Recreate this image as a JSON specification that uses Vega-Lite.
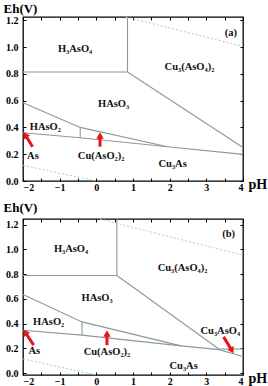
{
  "$schema": "https://vega.github.io/schema/vega-lite/v6.json",
  "padding": {"left": 2, "top": 1, "right": 0, "bottom": 0},
  "spacing": 7,
  "config": {
    "view": {"stroke": "#000", "strokeWidth": 1.3},
    "font": "Liberation Serif",
    "axis": {"domain": false, "grid": false, "tickColor": "#000", "tickSize": -3, "tickWidth": 1, "labelFont": "Liberation Serif", "labelFontWeight": "bold", "labelFontSize": 10, "labelColor": "#000", "titleFont": "Liberation Serif", "titleFontWeight": "bold", "titleColor": "#000"}
  },
  "datasets": {
    "lines": [
      {"panel": "a", "id": "a1", "kind": "solid", "seq": 1, "pH": -2, "Eh": 0.813},
      {"panel": "a", "id": "a1", "kind": "solid", "seq": 2, "pH": 0.85, "Eh": 0.813},
      {"panel": "a", "id": "a2", "kind": "solid", "seq": 1, "pH": 0.85, "Eh": 0.813},
      {"panel": "a", "id": "a2", "kind": "solid", "seq": 2, "pH": 0.85, "Eh": 1.224},
      {"panel": "a", "id": "a3", "kind": "solid", "seq": 1, "pH": 0.85, "Eh": 0.813},
      {"panel": "a", "id": "a3", "kind": "solid", "seq": 2, "pH": 4, "Eh": 0.25},
      {"panel": "a", "id": "a4", "kind": "solid", "seq": 1, "pH": -2, "Eh": 0.584},
      {"panel": "a", "id": "a4", "kind": "solid", "seq": 2, "pH": -0.44, "Eh": 0.4},
      {"panel": "a", "id": "a4", "kind": "solid", "seq": 3, "pH": 1.945, "Eh": 0.256},
      {"panel": "a", "id": "a5", "kind": "solid", "seq": 1, "pH": -0.44, "Eh": 0.4},
      {"panel": "a", "id": "a5", "kind": "solid", "seq": 2, "pH": -0.44, "Eh": 0.323},
      {"panel": "a", "id": "a6", "kind": "solid", "seq": 1, "pH": -2, "Eh": 0.36},
      {"panel": "a", "id": "a6", "kind": "solid", "seq": 2, "pH": -0.44, "Eh": 0.323},
      {"panel": "a", "id": "a6", "kind": "solid", "seq": 3, "pH": 1.945, "Eh": 0.256},
      {"panel": "a", "id": "a6", "kind": "solid", "seq": 4, "pH": 4, "Eh": 0.199},
      {"panel": "a", "id": "ad1", "kind": "dot", "seq": 1, "pH": 0.8, "Eh": 1.224},
      {"panel": "a", "id": "ad1", "kind": "dot", "seq": 2, "pH": 4, "Eh": 1.005},
      {"panel": "a", "id": "ad2", "kind": "dot", "seq": 1, "pH": -2, "Eh": 0.117},
      {"panel": "a", "id": "ad2", "kind": "dot", "seq": 2, "pH": 0, "Eh": 0},
      {"panel": "b", "id": "b1", "kind": "solid", "seq": 1, "pH": -2, "Eh": 0.789},
      {"panel": "b", "id": "b1", "kind": "solid", "seq": 2, "pH": 0.56, "Eh": 0.789},
      {"panel": "b", "id": "b2", "kind": "solid", "seq": 1, "pH": 0.56, "Eh": 0.789},
      {"panel": "b", "id": "b2", "kind": "solid", "seq": 2, "pH": 0.56, "Eh": 1.245},
      {"panel": "b", "id": "b3", "kind": "solid", "seq": 1, "pH": 0.56, "Eh": 0.789},
      {"panel": "b", "id": "b3", "kind": "solid", "seq": 2, "pH": 3.35, "Eh": 0.193},
      {"panel": "b", "id": "b4", "kind": "solid", "seq": 1, "pH": -2, "Eh": 0.635},
      {"panel": "b", "id": "b4", "kind": "solid", "seq": 2, "pH": -0.39, "Eh": 0.414},
      {"panel": "b", "id": "b4", "kind": "solid", "seq": 3, "pH": 2.31, "Eh": 0.22},
      {"panel": "b", "id": "b5", "kind": "solid", "seq": 1, "pH": -0.39, "Eh": 0.414},
      {"panel": "b", "id": "b5", "kind": "solid", "seq": 2, "pH": -0.39, "Eh": 0.307},
      {"panel": "b", "id": "b6", "kind": "solid", "seq": 1, "pH": -2, "Eh": 0.347},
      {"panel": "b", "id": "b6", "kind": "solid", "seq": 2, "pH": -0.39, "Eh": 0.307},
      {"panel": "b", "id": "b6", "kind": "solid", "seq": 3, "pH": 2.31, "Eh": 0.22},
      {"panel": "b", "id": "b6", "kind": "solid", "seq": 4, "pH": 3.35, "Eh": 0.19},
      {"panel": "b", "id": "b6", "kind": "solid", "seq": 5, "pH": 4, "Eh": 0.135},
      {"panel": "b", "id": "b7", "kind": "solid", "seq": 1, "pH": 3.35, "Eh": 0.195},
      {"panel": "b", "id": "b7", "kind": "solid", "seq": 2, "pH": 4, "Eh": 0.195},
      {"panel": "b", "id": "bd1", "kind": "dot", "seq": 1, "pH": 0.1, "Eh": 1.245},
      {"panel": "b", "id": "bd1", "kind": "dot", "seq": 2, "pH": 4, "Eh": 0.952},
      {"panel": "b", "id": "bd2", "kind": "dot", "seq": 1, "pH": -2, "Eh": 0.115},
      {"panel": "b", "id": "bd2", "kind": "dot", "seq": 2, "pH": 0, "Eh": -0.015}
    ],
    "labels": [
      {"panel": "a", "text": "H₃AsO₄", "pH": -0.58, "Eh": 0.987},
      {"panel": "a", "text": "Cu₃(AsO₄)₂", "pH": 2.54, "Eh": 0.853},
      {"panel": "a", "text": "HAsO₃", "pH": 0.47, "Eh": 0.572},
      {"panel": "a", "text": "HAsO₂", "pH": -1.39, "Eh": 0.403},
      {"panel": "a", "text": "As", "pH": -1.73, "Eh": 0.184},
      {"panel": "a", "text": "Cu(AsO₂)₂", "pH": 0.13, "Eh": 0.184},
      {"panel": "a", "text": "Cu₃As", "pH": 2.08, "Eh": 0.125},
      {"panel": "a", "text": "(a)", "pH": 3.67, "Eh": 1.107},
      {"panel": "b", "text": "H₃AsO₄", "pH": -0.69, "Eh": 1.006},
      {"panel": "b", "text": "Cu₃(AsO₄)₂", "pH": 2.35, "Eh": 0.85},
      {"panel": "b", "text": "HAsO₃", "pH": 0.02, "Eh": 0.603},
      {"panel": "b", "text": "HAsO₂", "pH": -1.3, "Eh": 0.414},
      {"panel": "b", "text": "As", "pH": -1.69, "Eh": 0.178},
      {"panel": "b", "text": "Cu(AsO₂)₂", "pH": 0.29, "Eh": 0.172},
      {"panel": "b", "text": "Cu₃As", "pH": 2.38, "Eh": 0.059},
      {"panel": "b", "text": "Cu₃AsO₄", "pH": 3.38, "Eh": 0.339},
      {"panel": "b", "text": "(b)", "pH": 3.61, "Eh": 1.12}
    ],
    "arrows": [
      {"panel": "a", "id": "as", "pH": -1.74, "Eh": 0.256, "pH2": -1.94, "Eh2": 0.345},
      {"panel": "a", "id": "cu", "pH": 0.1, "Eh": 0.256, "pH2": 0.1, "Eh2": 0.34},
      {"panel": "b", "id": "as", "pH": -1.71, "Eh": 0.226, "pH2": -1.94, "Eh2": 0.33},
      {"panel": "b", "id": "cu", "pH": 0.29, "Eh": 0.226, "pH2": 0.29, "Eh2": 0.32},
      {"panel": "b", "id": "cu3", "pH": 3.47, "Eh": 0.293, "pH2": 3.7, "Eh2": 0.182}
    ]
  },
  "vconcat": [
    {
      "width": 220,
      "height": 164,
      "resolve": {"axis": {"x": "independent", "y": "independent"}},
      "layer": [
        {
          "data": {"name": "lines"},
          "transform": [{"filter": "datum.panel == 'a' && datum.kind == 'solid'"}],
          "mark": {"type": "line", "color": "#8a98a0", "strokeWidth": 1.1},
          "encoding": {
            "x": {"field": "pH", "type": "quantitative", "scale": {"domain": [-2, 4], "nice": false, "zero": false},
              "axis": {"orient": "bottom", "values": [-2, -1.5, -1, -0.5, 0, 0.5, 1, 1.5, 2, 2.5, 3, 3.5, 4], "labelExpr": "datum.value % 1 == 0 ? format(datum.value, 'd') : ''", "labelPadding": 4, "title": "pH", "titleFontSize": 14, "titleAngle": 0, "titleAlign": "left", "titleBaseline": "alphabetic", "titleX": 225, "titleY": 7}},
            "y": {"field": "Eh", "type": "quantitative", "scale": {"domain": [0, 1.224], "nice": false, "zero": false},
              "axis": {"orient": "left", "values": [0, 0.2, 0.4, 0.6, 0.8, 1.0, 1.2], "format": ".1f", "labelPadding": 8, "title": "Eh(V)", "titleFontSize": 13, "titleAngle": 0, "titleAlign": "left", "titleBaseline": "alphabetic", "titleX": -20, "titleY": -5}},
            "detail": {"field": "id"},
            "order": {"field": "seq"}
          }
        },
        {
          "data": {"name": "lines"},
          "transform": [{"filter": "datum.panel == 'a' && datum.kind == 'dot'"}],
          "mark": {"type": "line", "color": "#9fd3c7", "strokeWidth": 1, "strokeDash": [2, 2]},
          "encoding": {
            "x": {"field": "pH", "type": "quantitative", "scale": {"domain": [-2, 4], "nice": false, "zero": false},
              "axis": {"orient": "top", "values": [-2, -1.5, -1, -0.5, 0, 0.5, 1, 1.5, 2, 2.5, 3, 3.5, 4], "labels": false, "title": null}},
            "y": {"field": "Eh", "type": "quantitative", "scale": {"domain": [0, 1.224], "nice": false, "zero": false},
              "axis": {"orient": "right", "values": [0, 0.2, 0.4, 0.6, 0.8, 1.0, 1.2], "labels": false, "title": null}},
            "detail": {"field": "id"},
            "order": {"field": "seq"}
          }
        },
        {
          "data": {"name": "arrows"},
          "transform": [{"filter": "datum.panel == 'a'"}],
          "mark": {"type": "rule", "color": "#e8141b", "strokeWidth": 3},
          "encoding": {
            "x": {"field": "pH", "type": "quantitative", "scale": {"domain": [-2, 4], "nice": false, "zero": false}, "axis": null},
            "y": {"field": "Eh", "type": "quantitative", "scale": {"domain": [0, 1.224], "nice": false, "zero": false}, "axis": null},
            "x2": {"field": "pH2"},
            "y2": {"field": "Eh2"}
          }
        },
        {
          "data": {"name": "arrows"},
          "transform": [{"filter": "datum.panel == 'a' && datum.id == 'as'"}],
          "mark": {"type": "point", "shape": "triangle-up", "filled": true, "color": "#e8141b", "size": 55, "opacity": 1, "angle": -33},
          "encoding": {
            "x": {"field": "pH2", "type": "quantitative", "scale": {"domain": [-2, 4], "nice": false, "zero": false}, "axis": null},
            "y": {"field": "Eh2", "type": "quantitative", "scale": {"domain": [0, 1.224], "nice": false, "zero": false}, "axis": null}
          }
        },
        {
          "data": {"name": "arrows"},
          "transform": [{"filter": "datum.panel == 'a' && datum.id == 'cu'"}],
          "mark": {"type": "point", "shape": "triangle-up", "filled": true, "color": "#e8141b", "size": 55, "opacity": 1, "angle": 0},
          "encoding": {
            "x": {"field": "pH2", "type": "quantitative", "scale": {"domain": [-2, 4], "nice": false, "zero": false}, "axis": null},
            "y": {"field": "Eh2", "type": "quantitative", "scale": {"domain": [0, 1.224], "nice": false, "zero": false}, "axis": null}
          }
        },
        {
          "data": {"name": "labels"},
          "transform": [{"filter": "datum.panel == 'a'"}],
          "mark": {"type": "text", "font": "Liberation Serif", "fontWeight": "bold", "fontSize": 10.5, "color": "#111"},
          "encoding": {
            "x": {"field": "pH", "type": "quantitative", "scale": {"domain": [-2, 4], "nice": false, "zero": false}, "axis": null},
            "y": {"field": "Eh", "type": "quantitative", "scale": {"domain": [0, 1.224], "nice": false, "zero": false}, "axis": null},
            "text": {"field": "text"}
          }
        }
      ]
    },
    {
      "width": 220,
      "height": 156,
      "resolve": {"axis": {"x": "independent", "y": "independent"}},
      "layer": [
        {
          "data": {"name": "lines"},
          "transform": [{"filter": "datum.panel == 'b' && datum.kind == 'solid'"}],
          "mark": {"type": "line", "color": "#8a98a0", "strokeWidth": 1.1},
          "encoding": {
            "x": {"field": "pH", "type": "quantitative", "scale": {"domain": [-2, 4], "nice": false, "zero": false},
              "axis": {"orient": "bottom", "values": [-2, -1.5, -1, -0.5, 0, 0.5, 1, 1.5, 2, 2.5, 3, 3.5, 4], "labelExpr": "datum.value % 1 == 0 ? format(datum.value, 'd') : ''", "labelPadding": 4, "title": "pH", "titleFontSize": 14, "titleAngle": 0, "titleAlign": "left", "titleBaseline": "alphabetic", "titleX": 225, "titleY": 7}},
            "y": {"field": "Eh", "type": "quantitative", "scale": {"domain": [-0.015, 1.245], "nice": false, "zero": false},
              "axis": {"orient": "left", "values": [0, 0.2, 0.4, 0.6, 0.8, 1.0, 1.2], "format": ".1f", "labelPadding": 8, "title": "Eh(V)", "titleFontSize": 13, "titleAngle": 0, "titleAlign": "left", "titleBaseline": "alphabetic", "titleX": -20, "titleY": -8}},
            "detail": {"field": "id"},
            "order": {"field": "seq"}
          }
        },
        {
          "data": {"name": "lines"},
          "transform": [{"filter": "datum.panel == 'b' && datum.kind == 'dot'"}],
          "mark": {"type": "line", "color": "#9fd3c7", "strokeWidth": 1, "strokeDash": [2, 2]},
          "encoding": {
            "x": {"field": "pH", "type": "quantitative", "scale": {"domain": [-2, 4], "nice": false, "zero": false},
              "axis": {"orient": "top", "values": [-2, -1.5, -1, -0.5, 0, 0.5, 1, 1.5, 2, 2.5, 3, 3.5, 4], "labels": false, "title": null}},
            "y": {"field": "Eh", "type": "quantitative", "scale": {"domain": [-0.015, 1.245], "nice": false, "zero": false},
              "axis": {"orient": "right", "values": [0, 0.2, 0.4, 0.6, 0.8, 1.0, 1.2], "labels": false, "title": null}},
            "detail": {"field": "id"},
            "order": {"field": "seq"}
          }
        },
        {
          "data": {"name": "arrows"},
          "transform": [{"filter": "datum.panel == 'b'"}],
          "mark": {"type": "rule", "color": "#e8141b", "strokeWidth": 3},
          "encoding": {
            "x": {"field": "pH", "type": "quantitative", "scale": {"domain": [-2, 4], "nice": false, "zero": false}, "axis": null},
            "y": {"field": "Eh", "type": "quantitative", "scale": {"domain": [-0.015, 1.245], "nice": false, "zero": false}, "axis": null},
            "x2": {"field": "pH2"},
            "y2": {"field": "Eh2"}
          }
        },
        {
          "data": {"name": "arrows"},
          "transform": [{"filter": "datum.panel == 'b' && datum.id == 'as'"}],
          "mark": {"type": "point", "shape": "triangle-up", "filled": true, "color": "#e8141b", "size": 55, "opacity": 1, "angle": -34},
          "encoding": {
            "x": {"field": "pH2", "type": "quantitative", "scale": {"domain": [-2, 4], "nice": false, "zero": false}, "axis": null},
            "y": {"field": "Eh2", "type": "quantitative", "scale": {"domain": [-0.015, 1.245], "nice": false, "zero": false}, "axis": null}
          }
        },
        {
          "data": {"name": "arrows"},
          "transform": [{"filter": "datum.panel == 'b' && datum.id == 'cu'"}],
          "mark": {"type": "point", "shape": "triangle-up", "filled": true, "color": "#e8141b", "size": 55, "opacity": 1, "angle": 0},
          "encoding": {
            "x": {"field": "pH2", "type": "quantitative", "scale": {"domain": [-2, 4], "nice": false, "zero": false}, "axis": null},
            "y": {"field": "Eh2", "type": "quantitative", "scale": {"domain": [-0.015, 1.245], "nice": false, "zero": false}, "axis": null}
          }
        },
        {
          "data": {"name": "arrows"},
          "transform": [{"filter": "datum.panel == 'b' && datum.id == 'cu3'"}],
          "mark": {"type": "point", "shape": "triangle-up", "filled": true, "color": "#e8141b", "size": 55, "opacity": 1, "angle": 149},
          "encoding": {
            "x": {"field": "pH2", "type": "quantitative", "scale": {"domain": [-2, 4], "nice": false, "zero": false}, "axis": null},
            "y": {"field": "Eh2", "type": "quantitative", "scale": {"domain": [-0.015, 1.245], "nice": false, "zero": false}, "axis": null}
          }
        },
        {
          "data": {"name": "labels"},
          "transform": [{"filter": "datum.panel == 'b'"}],
          "mark": {"type": "text", "font": "Liberation Serif", "fontWeight": "bold", "fontSize": 10.5, "color": "#111"},
          "encoding": {
            "x": {"field": "pH", "type": "quantitative", "scale": {"domain": [-2, 4], "nice": false, "zero": false}, "axis": null},
            "y": {"field": "Eh", "type": "quantitative", "scale": {"domain": [-0.015, 1.245], "nice": false, "zero": false}, "axis": null},
            "text": {"field": "text"}
          }
        }
      ]
    }
  ]
}
